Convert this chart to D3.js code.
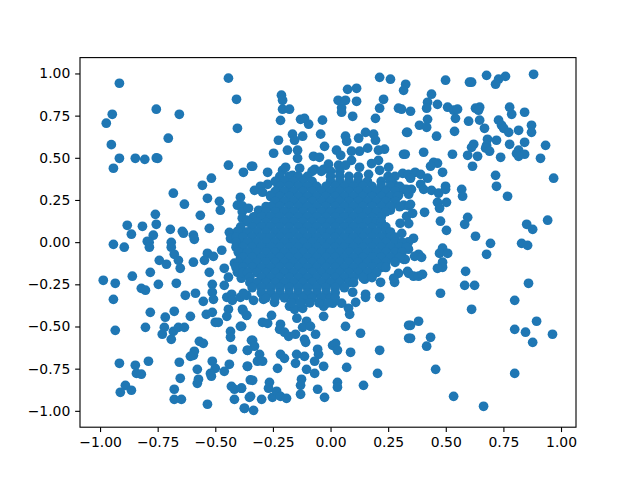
<!DOCTYPE html>
<html>
<head>
<meta charset="utf-8">
<script src="https://cdn.jsdelivr.net/npm/d3@7"></script>
<style>
  html, body { margin: 0; background: #fff; }
  svg { display: block; }
  text { font-family: "DejaVu Sans", sans-serif; font-size: 13.9px; fill: #000; }
</style>
</head>
<body>
<svg></svg>
<script>
const width = 640;
const height = 480;
const margin = { top: 57.6, right: 64, bottom: 52.8, left: 80 };

const xTicks = [-1, -0.75, -0.5, -0.25, 0, 0.25, 0.5, 0.75, 1];
const yTicks = [-1, -0.75, -0.5, -0.25, 0, 0.25, 0.5, 0.75, 1];

const upperLeft = [
  [-.916,.942],[-.756,.788],[-.656,.758],[-.947,.758],[-.973,.705],[-.704,.616],[-.951,.578],[-.916,.497],
  [-.942,.438],[-.847,.497],[-.806,.491],[-.756,.499],[-.750,.497],[-.443,.972],[-.408,.847],[-.404,.675],
  [-.443,.456],[-.378,.414],[-.343,.450],[-.517,.379],[-.556,.337],[-.682,.290],[-.534,.260],[-.634,.225],
  [-.482,.242],[-.478,.189],[-.760,.165],[-.565,.159],[-.756,.106],[-.882,.100],[-.816,.094],[-.526,.082],
  [-.695,.076],[-.864,.047],[-.769,.041],[-.643,.064],[-.638,.053],[-.595,.041],[-.591,.017],[-.795,.005],
  [-.691,-.001],[-.391,.266],[-.404,.219],[-.383,.215],[-.383,.180],[-.383,.142],[-.364,.130],[-.439,.058],
  [-.404,.064],[-.364,.058],[-.434,.021],[-.393,.011],[-.787,.000]
];

const lowerLeft = [
  [-.942,-.013],[-.895,-.030],[-.786,-.030],[-.691,-.030],[-.678,-.072],[-.743,-.108],[-.712,-.131],[-.660,-.108],
  [-.652,-.155],[-.595,-.119],[-.534,-.066],[-.547,-.108],[-.508,-.084],[-.472,-.048],[-.526,-.179],[-.461,-.155],
  [-.782,-.179],[-.860,-.202],[-.986,-.226],[-.934,-.244],[-.821,-.274],[-.803,-.285],[-.747,-.250],[-.669,-.244],
  [-.942,-.339],[-.630,-.315],[-.586,-.303],[-.513,-.250],[-.513,-.297],[-.552,-.351],[-.508,-.339],[-.461,-.256],
  [-.443,-.208],[-.404,-.179],[-.387,-.214],[-.417,-.125],[-.450,-.327],[-.429,-.309],[-.426,-.345],[-.391,-.327],
  [-.364,-.315],[-.782,-.416],[-.678,-.410],[-.717,-.445],[-.608,-.440],[-.539,-.428],[-.513,-.416],[-.443,-.398],
  [-.450,-.440],[-.382,-.398],[-.364,-.434],[-.500,-.475],[-.487,-.475],[-.934,-.523],[-.803,-.505],[-.721,-.505],
  [-.730,-.546],[-.691,-.576],[-.682,-.529],[-.660,-.505],[-.634,-.505],[-.434,-.529],[-.434,-.564],[-.391,-.499],
  [-.343,-.582],[-.569,-.588],[-.552,-.600],[-.426,-.635],[-.361,-.641],[-.591,-.647],[-.595,-.671],[-.608,-.677],
  [-.916,-.718],[-.790,-.706],[-.847,-.730],[-.842,-.778],[-.821,-.783],[-.656,-.712],[-.578,-.754],[-.513,-.706],
  [-.500,-.748],[-.521,-.778],[-.517,-.795],[-.461,-.766],[-.439,-.724],[-.361,-.736],[-.652,-.807],[-.573,-.813],
  [-.578,-.837],[-.890,-.849],[-.912,-.890],[-.864,-.878],[-.678,-.872],[-.678,-.932],[-.647,-.932],[-.534,-.961],
  [-.430,-.855],[-.417,-.872],[-.387,-.866],[-.417,-.932],[-.374,-.985],[-.352,-.920],[-.348,-.817]
];

const upperMiddle = [
  [.213,.977],[.260,.966],[.326,.936],[.317,.900],[.074,.906],[.113,.912],[-.213,.871],[-.208,.841],[.033,.841],
  [.065,.841],[.113,.835],[.230,.847],[.213,.794],[.295,.794],[.308,.788],[.347,.776],[-.208,.788],[-.178,.788],
  [.048,.796],[.048,.770],[.096,.746],[.195,.734],[-.217,.722],[-.130,.728],[-.113,.734],[-.095,.699],[-.035,.723],
  [.330,.651],[-.043,.640],[-.165,.640],[-.121,.628],[-.226,.604],[-.156,.604],[.065,.628],[.070,.598],[.122,.616],
  [.152,.651],[.187,.640],[.195,.604],[-.026,.568],[-.187,.545],[-.143,.545],[-.247,.527],[.026,.545],[.317,.521],
  [.234,.551],[.161,.557],[.126,.539],[.208,.545],[.091,.539],[-.143,.497],[-.074,.509],[-.048,.503],[.044,.515],
  [-.009,.462],[.091,.485],[.208,.485],[.178,.466],[-.338,.450],[-.273,.414],[-.208,.426],[-.195,.444],[-.134,.438],
  [-.069,.432],[-.030,.432],[.035,.456],[.065,.456],[.126,.444],[.165,.402],[.252,.444],[.213,.426],[.313,.408],
  [.339,.396],[-.165,.396],[-.208,.361],[-.273,.343],[-.304,.331],[-.330,.307],[-.295,.296],[-.260,.278],[-.226,.331],
  [-.356,.201],[-.312,.189],[-.247,.219],[-.334,.149],[.317,.313],[.339,.284],[.317,.219],[.339,.215],[.330,.153],
  [.339,.110],[.278,.337],[.295,.278],[.26,.19],[.302,.112],[.309,.052]
];

const lowerMiddle = [
  [.339,-.493],[.339,-.570],[.096,-.297],[.152,-.309],[.152,-.327],[.213,-.327],[.109,-.357],[.078,-.392],[.083,-.428],
  [-.030,-.440],[-.030,-.380],[.009,-.362],[.048,-.362],[.065,-.499],[.130,-.540],[-.380,-.404],[-.364,-.434],[-.256,-.434],
  [-.295,-.475],[-.273,-.481],[-.386,-.499],[-.217,-.487],[-.221,-.517],[-.200,-.534],[-.182,-.558],[-.152,-.546],
  [-.146,-.451],[-.104,-.469],[-.121,-.505],[-.087,-.499],[-.065,-.546],[-.113,-.576],[-.108,-.594],[-.338,-.582],
  [-.330,-.617],[-.360,-.641],[-.308,-.665],[-.317,-.706],[-.295,-.706],[-.360,-.736],[-.230,-.748],[-.217,-.665],
  [-.200,-.689],[-.147,-.665],[-.113,-.677],[-.152,-.718],[-.104,-.754],[-.056,-.635],[-.052,-.665],[-.069,-.706],
  [-.069,-.778],[-.030,-.736],[.009,-.612],[.022,-.600],[.030,-.641],[.087,-.653],[.070,-.742],[.213,-.641],[.204,-.778],
  [.143,-.849],[.030,-.831],[.030,-.860],[-.056,-.872],[-.026,-.920],[-.126,-.813],[-.130,-.849],[-.130,-.902],
  [-.338,-.819],[-.386,-.866],[-.347,-.914],[-.299,-.932],[-.373,-.985],[-.334,-.997],[-.265,-.831],[-.269,-.866],
  [-.252,-.920],[-.234,-.884],[-.217,-.914],[-.191,-.926],[-.334,-.345],[-.291,-.339],[-.243,-.357],[-.178,-.380],
  [-.156,-.398],[-.121,-.392],[-.095,-.345],[-.378,-.303],[.217,-.238],[.278,-.238],[.148,-.220],[.187,-.185],
  [.295,-.185],[.274,-.214],[.339,-.185],[.317,-.102]
];

const upperRight = [
  [.677,.989],[.759,.983],[.881,.995],[.499,.960],[.603,.948],[.612,.948],[.729,.966],[.716,.936],[.438,.877],[.421,.829],
  [.464,.817],[.417,.794],[.508,.800],[.534,.782],[.551,.788],[.542,.734],[.629,.794],[.647,.800],[.642,.782],[.777,.800],
  [.786,.758],[.842,.770],[.421,.728],[.386,.693],[.417,.681],[.599,.717],[.647,.723],[.729,.723],[.742,.693],[.751,.675],
  [.668,.675],[.773,.651],[.816,.663],[.872,.693],[.872,.651],[.334,.651],[.538,.657],[.460,.628],[.681,.610],[.720,.604],
  [.842,.592],[.777,.580],[.933,.574],[.621,.580],[.612,.562],[.677,.574],[.673,.557],[.690,.539],[.816,.545],[.807,.525],
  [.842,.521],[.816,.509],[.911,.497],[.738,.503],[.638,.509],[.595,.515],[.529,.521],[.404,.533],[.324,.521],[.616,.450],
  [.464,.468],[.447,.473],[.434,.450],[.486,.414],[.716,.396],[.968,.379],[.720,.331],[.768,.272],[.367,.414],[.338,.402],
  [.347,.379],[.391,.402],[.421,.379],[.391,.343],[.404,.313],[.438,.307],[.469,.290],[.499,.331],[.499,.313],[.569,.313],
  [.573,.272],[.351,.313],[.330,.313],[.464,.236],[.503,.236],[.473,.201],[.347,.224],[.356,.171],[.408,.177],[.477,.124],
  [.595,.147],[.582,.106],[.503,.070],[.629,.035],[.694,-.007],[.851,.106],[.877,.076],[.942,.130],[.829,-.007],[.855,-.019],
  [.360,.023],[.338,.001]
];

const lowerRight = [
  [.677,-.072],[.486,-.036],[.473,-.066],[.508,-.066],[.382,-.072],[.365,-.084],[.395,-.090],[.338,-.042],[.324,-.102],
  [.486,-.119],[.486,-.149],[.464,-.155],[.586,-.173],[.334,-.173],[.360,-.202],[.382,-.202],[.399,-.191],[.582,-.256],
  [.625,-.256],[.859,-.244],[.477,-.303],[.799,-.345],[.612,-.398],[.382,-.469],[.347,-.493],[.894,-.469],[.799,-.517],
  [.846,-.534],[.877,-.594],[.963,-.546],[.347,-.570],[.434,-.564],[.417,-.617],[.456,-.754],[.799,-.778],[.534,-.914],
  [.664,-.973]
];

// the solid middle, read row by row
const coreRowY = [.42,.39,.36,.33,.30,.27,.24,.21,.18,.15,.12,.09,.06,.03,0,-.03,-.06,-.09,-.12,-.15,-.18,-.21,-.24,-.27,-.30,-.33,-.36];
const coreRowX = [
  [-.08,-.04,0,.04],
  [-.22,-.18,-.14,-.10,0,.04,.08,.12,.25,.28],
  [-.24,-.20,-.16,-.12,-.08,0,.04,.08,.12,.16,.22,.26],
  [-.22,-.18,-.14,-.10,-.06,-.02,.02,.06,.10,.14,.18,.22,.26,.30],
  [-.24,-.20,-.16,-.12,-.08,-.04,0,.04,.08,.12,.16,.20,.24,.28],
  [-.26,-.22,-.18,-.14,-.10,-.06,-.02,.02,.06,.10,.14,.18,.22,.26,.29],
  [-.24,-.20,-.16,-.12,-.08,-.04,0,.04,.08,.12,.16,.20,.24,.28],
  [-.28,-.26,-.22,-.18,-.14,-.10,-.06,-.02,.02,.06,.10,.14,.18,.22,.26,.30],
  [-.30,-.28,-.24,-.20,-.16,-.12,-.08,-.04,0,.04,.08,.12,.16,.20,.24],
  [-.33,-.30,-.26,-.22,-.18,-.14,-.10,-.06,-.02,.02,.06,.10,.14,.18,.22],
  [-.36,-.32,-.28,-.24,-.20,-.16,-.12,-.08,-.04,0,.04,.08,.12,.16,.20,.22],
  [-.39,-.34,-.30,-.26,-.22,-.18,-.14,-.10,-.06,-.02,.02,.06,.10,.14,.18,.22,.24],
  [-.40,-.36,-.32,-.28,-.24,-.20,-.16,-.12,-.08,-.04,0,.04,.08,.12,.16,.20,.24,.26],
  [-.41,-.38,-.34,-.30,-.26,-.22,-.18,-.14,-.10,-.06,-.02,.02,.06,.10,.14,.18,.22,.26,.28],
  [-.41,-.36,-.32,-.28,-.24,-.20,-.16,-.12,-.08,-.04,0,.04,.08,.12,.16,.20,.24,.28,.31],
  [-.41,-.38,-.34,-.30,-.26,-.22,-.18,-.14,-.10,-.06,-.02,.02,.06,.10,.14,.18,.22,.26,.30,.33],
  [-.40,-.36,-.32,-.28,-.24,-.20,-.16,-.12,-.08,-.04,0,.04,.08,.12,.16,.20,.24,.28,.31],
  [-.39,-.38,-.34,-.30,-.26,-.22,-.18,-.14,-.10,-.06,-.02,.02,.06,.10,.14,.18,.22,.26,.30],
  [-.40,-.36,-.32,-.28,-.24,-.20,-.16,-.12,-.08,-.04,0,.04,.08,.12,.16,.20,.24,.28],
  [-.41,-.38,-.34,-.30,-.26,-.22,-.18,-.14,-.10,-.06,-.02,.02,.06,.10,.14,.18,.22,.24],
  [-.38,-.36,-.32,-.28,-.24,-.20,-.16,-.12,-.08,-.04,0,.04,.08,.12,.16,.20],
  [-.35,-.30,-.26,-.22,-.18,-.14,-.10,-.06,-.02,.02,.06,.10,.14,.18],
  [-.35,-.32,-.28,-.24,-.20,-.16,-.12,-.08,-.04,0,.04,.08,.10],
  [-.34,-.30,-.26,-.22,-.18,-.14,-.10,-.06,-.02,.02,.06],
  [-.30,-.26,-.22,-.18,-.14,-.10,-.06,-.02,.02],
  [-.28,-.24,-.20,-.16,-.12,-.08,-.04,0,.02],
  [-.17,-.13,-.09,-.05,-.01]
];
const core = coreRowY.flatMap((y, i) => coreRowX[i].map((x) => [x, y]));

const points = [...upperLeft, ...lowerLeft, ...upperMiddle, ...lowerMiddle, ...upperRight, ...lowerRight, ...core];

const svg = d3.select('svg')
  .attr('width', width)
  .attr('height', height);

const x = d3.scaleLinear().domain([-1.087, 1.065]).range([margin.left, width - margin.right]);
const y = d3.scaleLinear().domain([-1.097, 1.094]).range([height - margin.bottom, margin.top]);

svg.append('g')
  .selectAll('circle')
  .data(points)
  .join('circle')
    .attr('cx', (d) => x(d[0]))
    .attr('cy', (d) => y(d[1]))
    .attr('r', 4.86)
    .attr('fill', '#1f77b4');

const fmt = d3.format('.2f');

const xAxis = svg.append('g')
  .attr('transform', `translate(0,${height - margin.bottom})`)
  .call(d3.axisBottom(x).tickValues(xTicks).tickFormat(fmt).tickSize(4.86).tickPadding(4.86));

const yAxis = svg.append('g')
  .attr('transform', `translate(${margin.left},0)`)
  .call(d3.axisLeft(y).tickValues(yTicks).tickFormat(fmt).tickSize(4.86).tickPadding(4.86));

[xAxis, yAxis].forEach((a) => {
  a.attr('font-size', null).attr('font-family', null);
  a.select('.domain').remove();
  a.selectAll('line').attr('stroke-width', 1.11);
});

svg.append('rect')
  .attr('x', margin.left)
  .attr('y', margin.top)
  .attr('width', width - margin.left - margin.right)
  .attr('height', height - margin.top - margin.bottom)
  .attr('fill', 'none')
  .attr('stroke', '#000')
  .attr('stroke-width', 1.11);
</script>
</body>
</html>
